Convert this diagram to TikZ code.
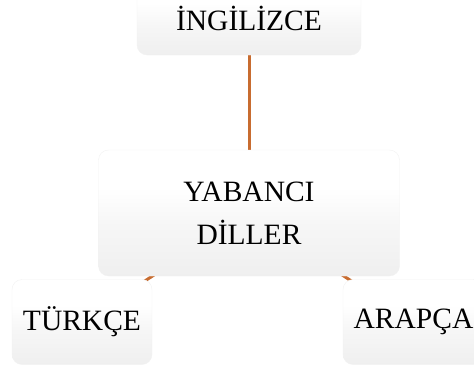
\documentclass[tikz,border=0pt]{standalone}
\usepackage{fontspec}
\setmainfont{Liberation Serif}
\usetikzlibrary{backgrounds}
\pgfdeclareverticalshading{glossbox}{100bp}{color(0bp)=(gray!5); color(12bp)=(gray!16); color(45bp)=(gray!7); color(60bp)=(white); color(100bp)=(white)}
\definecolor{linkorange}{RGB}{200,108,48}
\begin{document}
\begin{tikzpicture}[x=1pt,y=-1pt,
		langbox/.style={rounded corners=10pt, shading=glossbox, draw=gray!10, line width=0.4pt,
			inner sep=0pt, outer sep=0pt, align=center,
			font=\fontsize{29.5}{43}\selectfont},
		link/.style={draw=linkorange, line width=3pt}]
		\useasboundingbox (0,0) rectangle (474,372);
		
		% Define top
		\node[langbox, minimum width=224pt, minimum height=74pt] (Ingilizce) at (249,18) {İNGİLİZCE};
		
		% Define middle
		\node[langbox, minimum width=301pt, minimum height=126pt] (Yabanci) at (249,213) {YABANCI\\DİLLER};
		
		% Define bottom
		\node[langbox, minimum width=140pt, minimum height=85pt] (Turkce) at (82,322) {TÜRKÇE};
		\node[langbox, minimum width=140pt, minimum height=85pt] (Arapca) at (413,322) {\hspace*{1pt}ARAPÇA};
		
		\begin{pgfonlayer}{background}
			\draw[link] (Ingilizce.center) -- (Yabanci.center);
			\draw[link] (Yabanci.center) -- (Turkce.center);
			\draw[link] (Yabanci.center) -- (Arapca.center);
		\end{pgfonlayer}
	\end{tikzpicture}
\end{document}
